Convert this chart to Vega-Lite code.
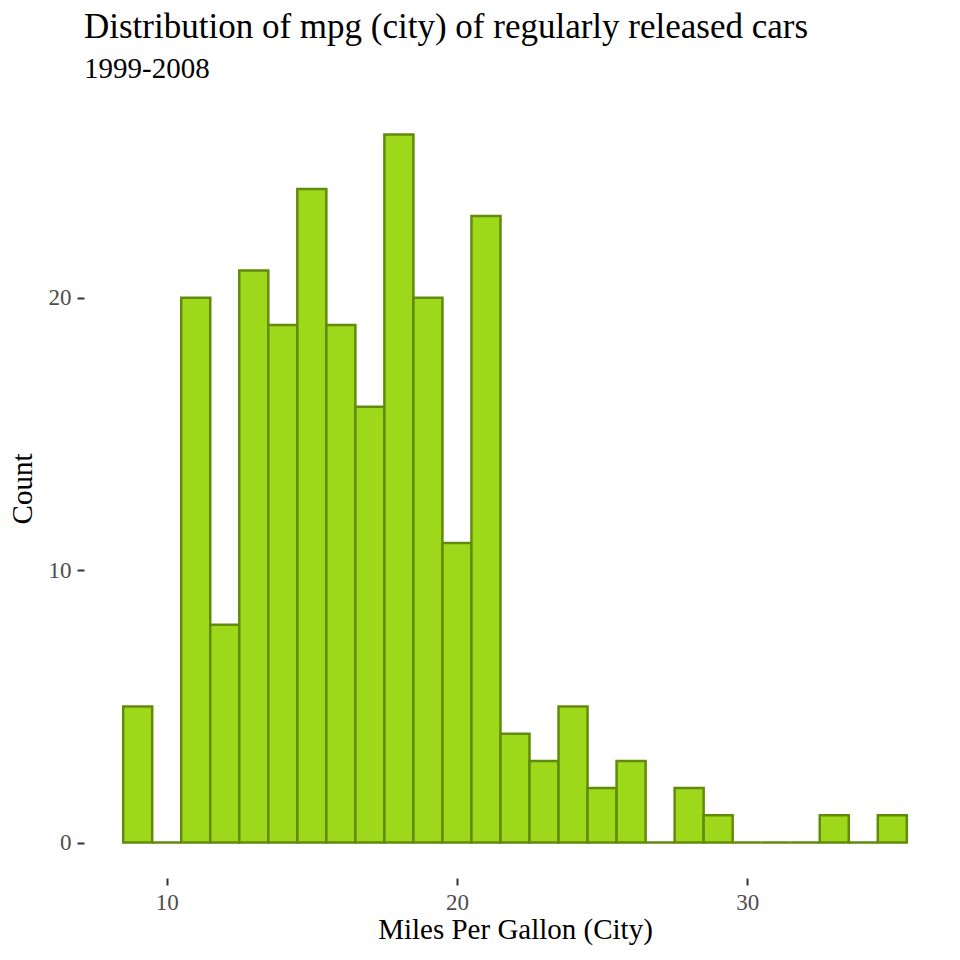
{
  "$schema": "https://vega.github.io/schema/vega-lite/v6.json",
  "autosize": "none",
  "width": 862,
  "height": 779,
  "padding": {"left": 84, "top": 99, "right": 14, "bottom": 82},
  "background": "white",
  "config": {"font": "Liberation Serif", "view": {"stroke": null}},
  "title": {
    "text": "Distribution of mpg (city) of regularly released cars",
    "subtitle": "1999-2008",
    "anchor": "start",
    "frame": "group",
    "font": "Liberation Serif",
    "fontSize": 35,
    "fontWeight": "normal",
    "color": "black",
    "subtitleFont": "Liberation Serif",
    "subtitleFontSize": 29,
    "subtitleColor": "black",
    "subtitlePadding": 10,
    "offset": 15
  },
  "data": {
    "values": [
      {"start": 8.5, "end": 9.5, "count": 5},
      {"start": 9.5, "end": 10.5, "count": 0},
      {"start": 10.5, "end": 11.5, "count": 20},
      {"start": 11.5, "end": 12.5, "count": 8},
      {"start": 12.5, "end": 13.5, "count": 21},
      {"start": 13.5, "end": 14.5, "count": 19},
      {"start": 14.5, "end": 15.5, "count": 24},
      {"start": 15.5, "end": 16.5, "count": 19},
      {"start": 16.5, "end": 17.5, "count": 16},
      {"start": 17.5, "end": 18.5, "count": 26},
      {"start": 18.5, "end": 19.5, "count": 20},
      {"start": 19.5, "end": 20.5, "count": 11},
      {"start": 20.5, "end": 21.5, "count": 23},
      {"start": 21.5, "end": 22.5, "count": 4},
      {"start": 22.5, "end": 23.5, "count": 3},
      {"start": 23.5, "end": 24.5, "count": 5},
      {"start": 24.5, "end": 25.5, "count": 2},
      {"start": 25.5, "end": 26.5, "count": 3},
      {"start": 26.5, "end": 27.5, "count": 0},
      {"start": 27.5, "end": 28.5, "count": 2},
      {"start": 28.5, "end": 29.5, "count": 1},
      {"start": 29.5, "end": 30.5, "count": 0},
      {"start": 30.5, "end": 31.5, "count": 0},
      {"start": 31.5, "end": 32.5, "count": 0},
      {"start": 32.5, "end": 33.5, "count": 1},
      {"start": 33.5, "end": 34.5, "count": 0},
      {"start": 34.5, "end": 35.5, "count": 1}
    ]
  },
  "mark": {"type": "bar", "fill": "#9ED81A", "stroke": "#628B0C", "strokeWidth": 2.5, "opacity": 1},
  "encoding": {
    "x": {
      "field": "start",
      "type": "quantitative",
      "scale": {"domain": [7.15, 36.85], "nice": false, "zero": false},
      "axis": {
        "title": "Miles Per Gallon (City)",
        "values": [10, 20, 30],
        "domain": false,
        "grid": false,
        "ticks": true,
        "tickSize": 7,
        "tickWidth": 2,
        "tickColor": "#333333",
        "labelFontSize": 23,
        "labelColor": "#4D4D4D",
        "labelPadding": 6,
        "titleFontSize": 29,
        "titleFontWeight": "normal",
        "titleColor": "black",
        "titlePadding": 1
      }
    },
    "x2": {"field": "end"},
    "y": {
      "field": "count",
      "type": "quantitative",
      "scale": {"domain": [-1.3, 27.3], "nice": false, "zero": false},
      "axis": {
        "title": "Count",
        "values": [0, 10, 20],
        "domain": false,
        "grid": false,
        "ticks": true,
        "tickSize": 7,
        "tickWidth": 2,
        "tickColor": "#333333",
        "labelFontSize": 23,
        "labelColor": "#4D4D4D",
        "labelPadding": 6,
        "titleFontSize": 29,
        "titleFontWeight": "normal",
        "titleColor": "black",
        "titlePadding": 11
      }
    },
    "y2": {"datum": 0}
  }
}
